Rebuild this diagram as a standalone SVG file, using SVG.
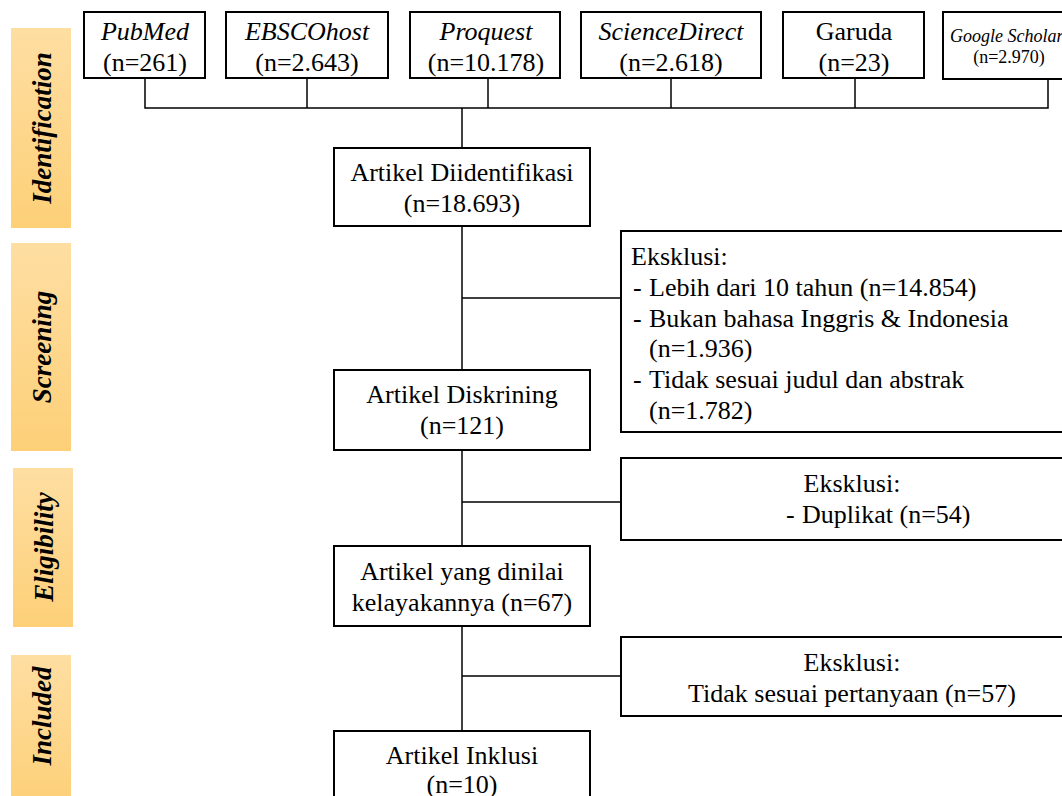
<svg xmlns="http://www.w3.org/2000/svg" width="1062" height="796" viewBox="0 0 1062 796">
<defs>
<linearGradient id="bar" x1="0" y1="0" x2="0" y2="1">
<stop offset="0" stop-color="#FEDEA2"/>
<stop offset="1" stop-color="#FDD078"/>
</linearGradient>
</defs>
<style>
.box{fill:#fff;stroke:#000;stroke-width:2}
.bar{fill:url(#bar)}
.t{font-family:"Liberation Serif","Times New Roman",serif;font-size:26px;fill:#000}
.c{text-anchor:middle}
.i{font-style:italic}
.sm{font-size:18px}
.lab{font-family:"Liberation Serif","Times New Roman",serif;font-size:27px;font-weight:bold;font-style:italic;text-anchor:middle;fill:#000}
.ln{fill:none;stroke:#000;stroke-width:1.5}
</style>
<rect width="1062" height="796" fill="#fff"/>
<g id="phases">
<g id="phase-identification"><rect class="bar" x="11" y="28" width="60" height="200"/><text class="lab" transform="translate(51,128) rotate(-90)">Identification</text></g>
<g id="phase-screening"><rect class="bar" x="11" y="243" width="60" height="208"/><text class="lab" transform="translate(51,347) rotate(-90)">Screening</text></g>
<g id="phase-eligibility"><rect class="bar" x="13" y="468" width="60" height="159"/><text class="lab" transform="translate(53,547) rotate(-90)">Eligibility</text></g>
<g id="phase-included"><rect class="bar" x="11" y="655" width="60" height="150"/><text class="lab" transform="translate(51,716) rotate(-90)">Included</text></g>
</g>
<g id="connectors">
<polyline class="ln" points="145,78 145,108 1048,108 1048,79"/>
<line class="ln" x1="307" y1="78" x2="307" y2="108"/>
<line class="ln" x1="488" y1="78" x2="488" y2="108"/>
<line class="ln" x1="671" y1="78" x2="671" y2="108"/>
<line class="ln" x1="855" y1="78" x2="855" y2="108"/>
<line class="ln" x1="462" y1="108" x2="462" y2="148"/>
<line class="ln" x1="462" y1="226" x2="462" y2="370"/>
<line class="ln" x1="462" y1="298" x2="621" y2="298"/>
<line class="ln" x1="462" y1="450" x2="462" y2="546"/>
<line class="ln" x1="462" y1="502" x2="621" y2="502"/>
<line class="ln" x1="462" y1="626" x2="462" y2="731"/>
<line class="ln" x1="462" y1="676" x2="621" y2="676"/>
</g>
<g id="src-pubmed"><rect class="box" x="84" y="12" width="121" height="66"/><text class="t c i" x="145" y="40">PubMed</text><text class="t c" x="145" y="71">(n=261)</text></g>
<g id="src-ebsco"><rect class="box" x="226" y="12" width="162" height="66"/><text class="t c i" x="307" y="40">EBSCOhost</text><text class="t c" x="307" y="71">(n=2.643)</text></g>
<g id="src-proquest"><rect class="box" x="410" y="12" width="150" height="66"/><text class="t c i" x="486" y="40">Proquest</text><text class="t c" x="486" y="71">(n=10.178)</text></g>
<g id="src-sciencedirect"><rect class="box" x="581" y="12" width="180" height="66"/><text class="t c i" x="671" y="40">ScienceDirect</text><text class="t c" x="671" y="71">(n=2.618)</text></g>
<g id="src-garuda"><rect class="box" x="783" y="12" width="141" height="66"/><text class="t c" x="854" y="40">Garuda</text><text class="t c" x="854" y="71">(n=23)</text></g>
<g id="src-scholar"><rect class="box" x="943" y="12" width="140" height="67"/><text class="t i sm" x="950" y="42">Google Scholar</text><text class="t c sm" x="1009" y="63">(n=2.970)</text></g>
<g id="identified"><rect class="box" x="334" y="148" width="256" height="78"/><text class="t c" x="462" y="181">Artikel Diidentifikasi</text><text class="t c" x="462" y="212">(n=18.693)</text></g>
<g id="excl-screening"><rect class="box" x="621" y="231" width="460" height="201"/>
<text class="t" x="631" y="265">Eksklusi:</text>
<text class="t" y="296"><tspan x="633">-</tspan><tspan x="649">Lebih dari 10 tahun (n=14.854)</tspan></text>
<text class="t" y="327"><tspan x="633">-</tspan><tspan x="649">Bukan bahasa Inggris &amp; Indonesia</tspan></text>
<text class="t" x="649" y="357">(n=1.936)</text>
<text class="t" y="388"><tspan x="633">-</tspan><tspan x="649">Tidak sesuai judul dan abstrak</tspan></text>
<text class="t" x="649" y="419">(n=1.782)</text>
</g>
<g id="screened"><rect class="box" x="334" y="370" width="256" height="80"/><text class="t c" x="462" y="403">Artikel Diskrining</text><text class="t c" x="462" y="434">(n=121)</text></g>
<g id="excl-duplicate"><rect class="box" x="621" y="458" width="460" height="82"/><text class="t c" x="852" y="492">Eksklusi:</text><text class="t" y="523"><tspan x="786">-</tspan><tspan x="802">Duplikat (n=54)</tspan></text></g>
<g id="eligible"><rect class="box" x="334" y="546" width="256" height="80"/><text class="t c" x="462" y="580">Artikel yang dinilai</text><text class="t c" x="462" y="611">kelayakannya (n=67)</text></g>
<g id="excl-question"><rect class="box" x="621" y="637" width="460" height="79"/><text class="t c" x="852" y="671">Eksklusi:</text><text class="t c" x="852" y="702">Tidak sesuai pertanyaan (n=57)</text></g>
<g id="included"><rect class="box" x="334" y="731" width="256" height="80"/><text class="t c" x="462" y="764">Artikel Inklusi</text><text class="t c" x="462" y="793">(n=10)</text></g>
</svg>
